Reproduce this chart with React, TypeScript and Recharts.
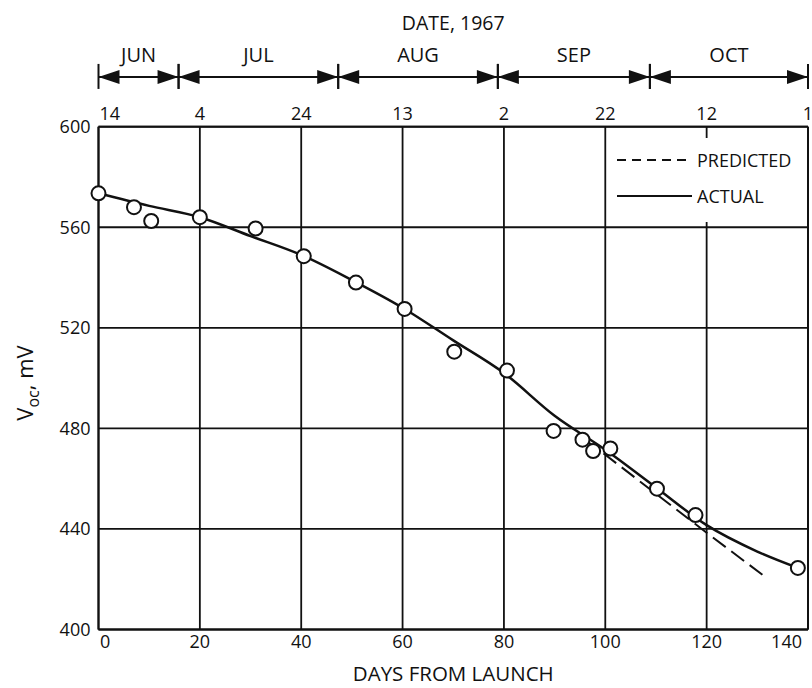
import {
  ComposedChart,
  Line,
  Scatter,
  XAxis,
  YAxis,
  CartesianGrid,
  ReferenceLine,
  Legend,
  Label,
} from "recharts";

// axis ticks
const dayTicks = [0, 20, 40, 60, 80, 100, 120, 140];
const dateLabels = ["14", "4", "24", "13", "2", "22", "12", "1"];
const mvTicks = [400, 440, 480, 520, 560, 600];

// month spans on the date scale (days from launch)
const months = ["JUN", "JUL", "AUG", "SEP", "OCT"];
const monthEdges = [0, 15.8, 47.3, 78.8, 108.8, 140];

// measured points (circles)
const obsDays = [0, 7, 10.4, 20, 31, 40.5, 50.8, 60.4, 70.2, 80.6, 89.8, 95.5, 97.6, 101, 110.2, 117.8, 138];
const obsMv = [573.5, 568, 562.5, 564, 559.5, 548.5, 538, 527.5, 510.5, 503, 479, 475.5, 471, 472, 456, 445.5, 424.5];

// faired curve through the data
const actualDays = [0, 10, 20, 30, 40, 50, 60, 70, 80, 90, 100, 110, 120, 130, 138];
const actualMv = [573.5, 568.5, 564, 556.5, 549, 539, 528, 515, 502, 485, 471.5, 456.5, 441.5, 431, 424.5];

// predicted extension
const predictedDays = [96, 100, 110, 120, 131.5];
const predictedMv = [475.5, 469.5, 454, 438.5, 421];

const observed = obsDays.map((day, i) => ({ day, mv: obsMv[i] }));
const actual = actualDays.map((day, i) => ({ day, mv: actualMv[i] }));
const predicted = predictedDays.map((day, i) => ({ day, mv: predictedMv[i] }));

const INK = "#111";
const FONT = "'Open Sans', sans-serif";
const BRACKET_MV = 619.8; // month arrows sit above the frame

function tickIndex(value: number, fallback: number) {
  const i = dayTicks.findIndex((t) => Math.abs(t - value) < 1e-6);
  return i >= 0 ? i : fallback;
}

function MonthBracket(props: any) {
  const { x1, x2, y1, name } = props;
  const y = y1;
  return (
    <g>
      <line x1={x1} x2={x2} y1={y} y2={y} stroke={INK} strokeWidth={2} />
      <polygon points={`${x1},${y} ${x1 + 21},${y - 7} ${x1 + 21},${y + 7}`} fill={INK} />
      <polygon points={`${x2},${y} ${x2 - 21},${y - 7} ${x2 - 21},${y + 7}`} fill={INK} />
      <line x1={x1} x2={x1} y1={y - 13} y2={y + 12} stroke={INK} strokeWidth={2} />
      <line x1={x2} x2={x2} y1={y - 13} y2={y + 12} stroke={INK} strokeWidth={2} />
      <text
        x={(x1 + x2) / 2}
        y={y - 22}
        textAnchor="middle"
        dominantBaseline="central"
        fill={INK}
        fontSize={20}
        fontFamily={FONT}
      >
        {name}
      </text>
    </g>
  );
}

function TopTick(props: any) {
  const { x, y, payload, index } = props;
  const i = tickIndex(Number(payload?.value), index ?? 0);
  return (
    <text
      x={i === 0 ? x + 1 : x}
      y={y}
      textAnchor={i === 0 ? "start" : "middle"}
      fill={INK}
      fontSize={18}
      fontFamily={FONT}
    >
      {dateLabels[i]}
    </text>
  );
}

function BottomTick(props: any) {
  const { x, y, payload, index } = props;
  const i = tickIndex(Number(payload?.value), index ?? 0);
  const last = i === dayTicks.length - 1;
  let anchor = "middle";
  let tx = x;
  if (i === 0) {
    anchor = "start";
    tx = x + 1.5;
  } else if (last) {
    anchor = "end";
    tx = x + 2;
  }
  return (
    <text x={tx} y={y} dy="0.71em" textAnchor={anchor} fill={INK} fontSize={18} fontFamily={FONT}>
      {dayTicks[i]}
    </text>
  );
}

function VocLabel() {
  return (
    <text
      transform="translate(33, 383) rotate(-90)"
      textAnchor="middle"
      fill={INK}
      fontFamily={FONT}
      fontSize={22}
    >
      V
      <tspan fontSize={16} dy={6}>
        oc
      </tspan>
      <tspan dy={-6}>, mV</tspan>
    </text>
  );
}

function LegendBox() {
  return (
    <svg width={192} height={84}>
      <line x1={5} x2={80} y1={22} y2={22} stroke={INK} strokeWidth={2} strokeDasharray="9 6" />
      <text x={85} y={22} dominantBaseline="central" fill={INK} fontSize={18} fontFamily={FONT}>
        PREDICTED
      </text>
      <line x1={5} x2={80} y1={58} y2={58} stroke={INK} strokeWidth={2} />
      <text x={85} y={58} dominantBaseline="central" fill={INK} fontSize={18} fontFamily={FONT}>
        ACTUAL
      </text>
    </svg>
  );
}

export default function App() {
  return (
    <div style={{ position: "absolute", left: 0, top: 0, width: 812, height: 688, background: "#fff" }}>
      <ComposedChart width={812} height={688} margin={{ top: 0, right: 4, bottom: 0, left: 0 }}>
        <CartesianGrid stroke={INK} strokeWidth={1.8} />
        <XAxis
          type="number"
          dataKey="day"
          domain={[0, 140]}
          ticks={dayTicks}
          height={58.5}
          tickSize={0}
          tickMargin={6}
          tick={<BottomTick />}
          axisLine={{ stroke: INK, strokeWidth: 2 }}
        >
          <Label
            value="DAYS FROM LAUNCH"
            position="insideBottom"
            offset={7}
            fill={INK}
            fontSize={20.5}
            fontFamily={FONT}
          />
        </XAxis>
        <XAxis
          xAxisId="top"
          orientation="top"
          type="number"
          dataKey="day"
          domain={[0, 140]}
          ticks={dayTicks}
          interval={0}
          height={126.7}
          tickSize={0}
          tickMargin={7}
          tick={<TopTick />}
          axisLine={{ stroke: INK, strokeWidth: 2 }}
        >
          <Label value="DATE, 1967" position="insideTop" offset={16} fill={INK} fontSize={19.5} fontFamily={FONT} />
        </XAxis>
        <YAxis
          type="number"
          dataKey="mv"
          domain={[400, 600]}
          ticks={mvTicks}
          width={98.5}
          tickSize={0}
          tickMargin={8}
          tick={{ fill: INK, fontSize: 18, fontFamily: FONT }}
          axisLine={{ stroke: INK, strokeWidth: 2 }}
        >
          <Label content={<VocLabel />} />
        </YAxis>
        <ReferenceLine x={140} stroke={INK} strokeWidth={2} />
        {months.map((m, i) => (
          <ReferenceLine
            key={m}
            segment={[
              { x: monthEdges[i], y: BRACKET_MV },
              { x: monthEdges[i + 1], y: BRACKET_MV },
            ]}
            ifOverflow="visible"
            shape={(p: any) => <MonthBracket {...p} name={m} />}
          />
        ))}
        <Legend
          layout="vertical"
          align="center"
          verticalAlign="middle"
          wrapperStyle={{ left: 612, top: 138, width: 192, height: 84, background: "#fff" }}
          content={<LegendBox />}
        />
        <Line
          data={predicted}
          xAxisId="top"
          dataKey="mv"
          name="PREDICTED"
          type="linear"
          stroke={INK}
          strokeWidth={2}
          strokeDasharray="16 7"
          dot={false}
          activeDot={false}
          isAnimationActive={false}
        />
        <Line
          data={actual}
          dataKey="mv"
          name="ACTUAL"
          type="monotone"
          stroke={INK}
          strokeWidth={2.5}
          dot={false}
          activeDot={false}
          isAnimationActive={false}
        />
        <Scatter
          data={observed}
          dataKey="mv"
          legendType="none"
          isAnimationActive={false}
          shape={(p: any) => <circle cx={p.cx} cy={p.cy} r={7} fill="#fff" stroke={INK} strokeWidth={2} />}
        />
      </ComposedChart>
    </div>
  );
}
